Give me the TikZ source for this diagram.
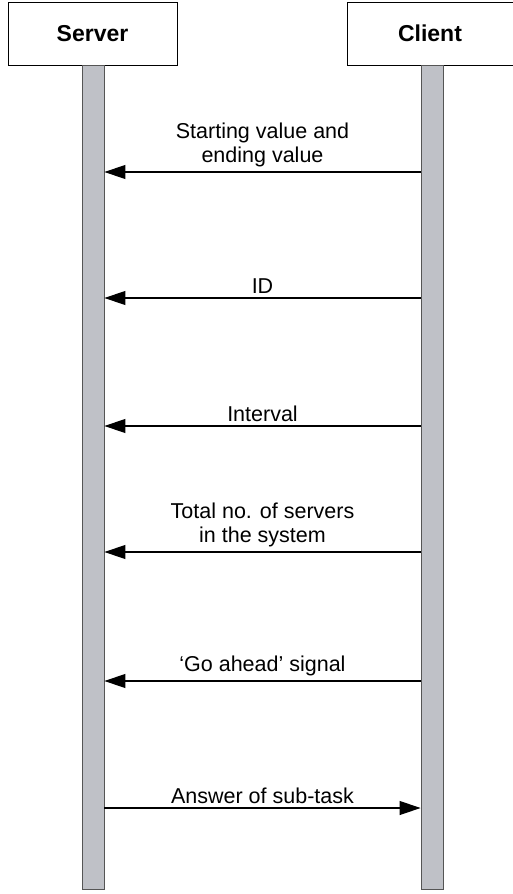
\documentclass[tikz,border=0pt]{standalone}
\usepackage{fontspec}
\setmainfont{Liberation Sans}
\usetikzlibrary{arrows.meta}
\definecolor{barfill}{RGB}{191,193,199}
\definecolor{barline}{RGB}{85,85,85}
\tikzset{
  acteur/.style={draw, line width=0.9pt, minimum width=169pt, minimum height=63pt,
    font=\fontsize{23}{27}\selectfont\bfseries},
  ligne/.style={draw=barline, fill=barfill, line width=0.9pt, minimum width=22pt,
    minimum height=824pt, anchor=north, inner sep=0pt},
  msg/.style={line width=1.1pt, -{Triangle[length=21pt,width=14pt]}},
  etiq/.style={midway, above, align=center, inner sep=4pt,
    font=\fontsize{21.5}{24}\selectfont}
}
\begin{document}
\begin{tikzpicture}[x=1pt,y=-1pt]
  \useasboundingbox (0,0) rectangle (513,894);

  % Boîtes des deux acteurs
  \node[acteur] (server) at (92.5,33.5) {Server};
  \node[acteur, minimum width=166pt] (client) at (430,33.5) {Client};

  % Lignes de vie
  \node[ligne] (lserver) at (93,65) {};
  \node[ligne] (lclient) at (432,65) {};

  % Valeurs de départ et de fin
  \draw[msg] (lclient.west |- 0,172) -- node[etiq] {Starting value and\\ending value} (lserver.east |- 0,172);

  % Identifiant
  \draw[msg] (lclient.west |- 0,298) -- node[etiq] {ID} (lserver.east |- 0,298);

  % Intervalle
  \draw[msg] (lclient.west |- 0,426) -- node[etiq] {Interval} (lserver.east |- 0,426);

  % Nombre total de serveurs
  \draw[msg] (lclient.west |- 0,552) -- node[etiq] {Total no. of servers\\in the system} (lserver.east |- 0,552);

  % Signal de départ
  \draw[msg] (lclient.west |- 0,681) -- node[etiq] {‘Go ahead’ signal} (lserver.east |- 0,681);

  % Réponse du sous-problème
  \draw[msg] (lserver.east |- 0,808) -- node[etiq] {Answer of sub-task} (lclient.west |- 0,808);
\end{tikzpicture}
\end{document}
